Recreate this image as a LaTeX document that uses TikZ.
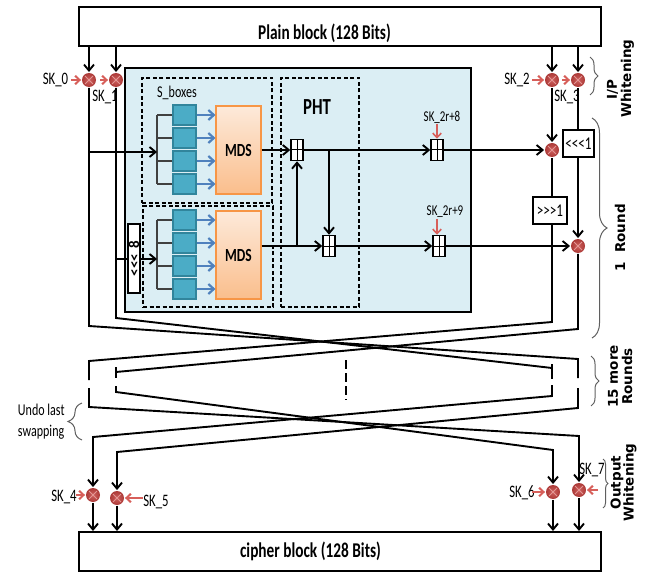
\documentclass[tikz,border=0pt]{standalone}
\usepackage{fontspec}
\newfontfamily\cf{Carlito}[FakeStretch=0.73]
\newfontfamily\wf{Carlito}
\newfontfamily\vf{DejaVu Sans}
\usetikzlibrary{arrows.meta,decorations.pathreplacing,calc}
\definecolor{panel}{RGB}{219,238,244}
\definecolor{sfill}{RGB}{75,172,198}
\definecolor{sbord}{RGB}{49,133,156}
\definecolor{mdst}{RGB}{253,234,218}
\definecolor{mdsbot}{RGB}{250,190,140}
\definecolor{mdsb}{RGB}{247,150,70}
\definecolor{ablue}{RGB}{79,129,189}
\definecolor{xin}{RGB}{205,95,92}
\definecolor{xout}{RGB}{172,58,56}
\definecolor{xpink}{RGB}{228,150,148}
\definecolor{kred}{RGB}{215,95,90}
\definecolor{bgray}{RGB}{95,95,95}
\begin{document}
\begin{tikzpicture}[x=1pt,y=-1pt,line width=1.9pt,
  arr/.style={-{Straight Barb[length=6pt,width=10pt]},line width=1.9pt},
  redarr/.style={draw=kred,line width=2pt,-{Straight Barb[length=4.5pt,width=8.5pt]}},
  bluearr/.style={draw=ablue,line width=2.2pt,-{Straight Barb[length=5.5pt,width=10pt]}},
  xorn/.style={circle,inner sep=0,minimum size=14pt,inner color=xin,outer color=xout,
    path picture={\draw[xpink,line width=0.9pt]
      ($(path picture bounding box.center)+(-4pt,-4pt)$) -- ++(8pt,8pt)
      ($(path picture bounding box.center)+(-4pt,4pt)$) -- ++(8pt,-8pt);}},
  addn/.style={rectangle,draw,fill=white,line width=1.5pt,minimum width=12pt,minimum height=21pt,inner sep=0,
    path picture={\draw[line width=1pt] (path picture bounding box.north) -- (path picture bounding box.south)
      (path picture bounding box.west) -- (path picture bounding box.east);}},
  sbox/.style={rectangle,draw=sbord,fill=sfill,line width=1.3pt,minimum width=23pt,minimum height=20pt,inner sep=0},
  mds/.style={rectangle,draw=mdsb,line width=1.1pt,top color=mdst,bottom color=mdsbot,minimum width=45pt,
    minimum height=88pt,inner sep=0,font=\cf\bfseries\fontsize{18.5}{20}\selectfont},
  dbox/.style={draw,dash pattern=on 4pt off 2.5pt,line width=1.5pt,inner sep=0},
  rotbox/.style={rectangle,draw,fill=white,line width=1.7pt,inner sep=0},
  keylab/.style={font=\cf\fontsize{17.5}{19}\selectfont,inner sep=0},
  comb/.style={draw=black!75,line width=1.1pt},
  brc/.style={draw=bgray,line width=1pt,decorate,decoration={brace,amplitude=#1}},
  vlab/.style={font=\vf\bfseries\fontsize{13.5}{15}\selectfont,rotate=90,inner sep=0},
  blockbox/.style={draw,line width=2pt,minimum width=522pt,minimum height=39pt,inner sep=0},
  blocktxt/.style={font=\cf\bfseries\fontsize{21}{24}\selectfont,inner sep=0,anchor=base},
]
\useasboundingbox (0,0) rectangle (645,572);
% blocks
\node[blockbox] (plain) at (340,26.5) {};
\node[blocktxt] (plaint) at (324.5,39.5) {Plain block (128 Bits)};
\node[blockbox] (cipher) at (340,551.5) {};
\node[blocktxt] (ciphert) at (310.5,557) {cipher block (128 Bits)};
% panel
\node[draw,fill=panel,line width=1.8pt,minimum width=346pt,minimum height=244pt,inner sep=0] (panel) at (298,190) {};
\node[dbox,minimum width=130pt,minimum height=125pt] (sb1) at (207,140.5) {};
\node[dbox,minimum width=130pt,minimum height=101pt] (sb2) at (208,256.5) {};
\node[dbox,minimum width=78pt,minimum height=229pt] (pht) at (320,192.5) {};
\node[font=\cf\fontsize{16.5}{18}\selectfont,inner sep=0] (sbl) at (177,93) {S\_boxes};
\node[font=\cf\bfseries\fontsize{23}{25}\selectfont,inner sep=0] (phtl) at (317,107) {PHT};
% MDS
\node[mds] (mds1) at (238.5,150) {MDS};
\node[mds] (mds2) at (238.5,255) {MDS};
% sboxes
\coordinate (cm1) at (157,152);
\coordinate (cm2) at (157,259);
\foreach \i/\y in {1/115,2/138,3/161,4/184}{
  \node[sbox] (sa\i) at (184.5,\y) {};
  \draw[bluearr] (sa\i.east) -- (sa\i.east -| mds1.west);
  \draw[comb] (sa\i.west) -- (sa\i.west -| cm1);
}
\foreach \i/\y in {1/220,2/243,3/266,4/289}{
  \node[sbox] (sb\i) at (184.5,\y) {};
  \draw[bluearr] (sb\i.east) -- (sb\i.east -| mds2.west);
  \draw[comb] (sb\i.west) -- (sb\i.west -| cm2);
}
\draw[comb] (sa1.west -| cm1) -- (sa4.west -| cm1);
\draw[comb] (sb1.west -| cm2) -- (sb4.west -| cm2);
% top xors
\node[xorn] (x0) at (89,80) {};
\node[xorn] (x1) at (116,80) {};
\node[xorn] (x2) at (552,80) {};
\node[xorn] (x3) at (578,80) {};
\foreach \n in {x0,x1,x2,x3}{\draw[arr] (\n |- plain.south) -- (\n.north);}
\node[keylab] (k0) at (55.5,80) {SK\_0};
\node[keylab] (k1) at (105,97) {SK\_1};
\node[keylab] (k2) at (517,80) {SK\_2};
\node[keylab] (k3) at (567,97) {SK\_3};
\coordinate (k0a) at (71,80);
\coordinate (k1a) at (100,80);
\coordinate (k2a) at (532,80);
\coordinate (k3a) at (562,80);
\draw[redarr] (k0a) -- (x0.west);
\draw[redarr] (k1a) -- (x1.west);
\draw[redarr] (k2a) -- (x2.west);
\draw[redarr] (k3a) -- (x3.west);
% inputs to F
\draw[arr] (x0 |- cm1) -- (cm1);
\node[rotbox,minimum width=12pt,minimum height=69pt] (r8) at (134,258.5)
  {\rotatebox{90}{\wf\bfseries\fontsize{15}{16}\selectfont <<<\,\,8}};
\draw (x1 |- cm2) -- (r8.west |- cm2);
\draw[arr] (r8.east |- cm2) -- (cm2);
% PHT adders
\node[addn] (a1) at (297,150) {};
\node[addn] (a2) at (329,246) {};
\node[addn] (a3) at (437,150) {};
\node[addn] (a4) at (439,246) {};
\node[xorn] (xr1) at (552,150) {};
\node[xorn] (xr2) at (578,246) {};
\draw[arr] (mds1.east) -- (a1.west);
\draw[arr] (a1.east) -- (a3.west);
\draw[arr] (a3.east) -- (xr1.west);
\draw[arr] (mds2.east |- a2) -- (a2.west);
\draw[arr] (a2.east) -- (a4.west);
\draw[arr] (a4.east) -- (xr2.west);
\draw[arr] (a2 |- a1) -- (a2.north);
\draw[arr] (a1 |- a2) -- (a1.south);
\node[font=\cf\fontsize{15}{16}\selectfont,inner sep=0] (k8) at (442,117) {SK\_2r+8};
\node[font=\cf\fontsize{15}{16}\selectfont,inner sep=0] (k9) at (445,212) {SK\_2r+9};
\draw[redarr,line width=1.6pt] (a3 |- k8.south) -- (a3.north);
\draw[redarr,line width=1.6pt] (a3 |- k9.south) -- (a4.north -| a3);
% rotations
\node[rotbox,minimum width=31pt,minimum height=27pt,font=\cf\fontsize{18}{20}\selectfont] (rl) at (578.5,143.5) {<<<1};
\node[rotbox,minimum width=34pt,minimum height=27pt,font=\cf\fontsize{18}{20}\selectfont] (rr) at (550,210.5) {>>>1};
\draw[arr] (x2.south) -- (xr1.north);
\draw (xr1.south) -- (xr1 |- rr.north);
\draw (x3.south) -- (x3 |- rl.north);
\draw[arr] (x3 |- rl.south) -- (xr2.north);
% first swap
\coordinate (p1) at (89,326);
\coordinate (p2) at (578,359);
\coordinate (p3) at (578,378);
\draw (x0.south) -- (p1) -- (p2) -- (p3);
\coordinate (q1) at (116,318);
\coordinate (q2) at (552,368);
\coordinate (q3) at (552,379);
\coordinate (q0) at (552,364);
\draw (x1.south) -- (q1) -- (q2);
\draw (q0) -- (q3);
\coordinate (r1) at (552,322);
\coordinate (r2) at (89,361);
\coordinate (r3) at (89,380);
\draw (xr1 |- rr.south) -- (r1) -- (r2) -- (r3);
\coordinate (s1) at (578,329);
\coordinate (s2) at (116,372);
\coordinate (s0) at (116,367);
\coordinate (s3) at (116,378);
\draw (xr2.south) -- (s1) -- (s2);
\draw (s0) -- (s3);
% dashed middle
\coordinate (dm1) at (346,360);
\coordinate (dm2) at (346,400);
\draw[dash pattern=on 9pt off 4pt,line width=1.5pt] (dm1) -- (dm2);
% bottom xors
\node[xorn] (x4) at (93,495) {};
\node[xorn] (x5) at (117,498) {};
\node[xorn] (x6) at (553,492) {};
\node[xorn] (x7) at (579,490) {};
% second swap
\coordinate (e1) at (89,388);
\coordinate (e2) at (89,407);
\coordinate (e3) at (579,436);
\draw[arr] (e1) -- (e2) -- (e3) -- (x7.north);
\coordinate (f1) at (116,386);
\coordinate (f2) at (116,392);
\coordinate (f3) at (553,450);
\draw[arr] (f1) -- (f2) -- (f3) -- (x6.north);
\coordinate (g1) at (552,385);
\coordinate (g2) at (552,396);
\coordinate (g3) at (93,437);
\draw[arr] (g1) -- (g2) -- (g3) -- (x4.north);
\coordinate (h1) at (578,388);
\coordinate (h2) at (578,408);
\coordinate (h3) at (117,452);
\draw[arr] (h1) -- (h2) -- (h3) -- (x5.north);
\foreach \n in {x4,x5,x6,x7}{\draw[arr] (\n.south) -- (\n |- cipher.north);}
\node[keylab] (k4) at (64,497) {SK\_4};
\node[keylab] (k5) at (156,502) {SK\_5};
\node[keylab] (k6) at (522,493) {SK\_6};
\node[keylab] (k7) at (592,470) {SK\_7};
\coordinate (k4a) at (76,495);
\coordinate (k5a) at (143,498);
\coordinate (k6a) at (532,492);
\coordinate (k7a) at (598,490);
\draw[redarr] (k4a) -- (x4.west);
\draw[redarr] (k5a) -- (x5.east);
\draw[redarr] (k6a) -- (x6.west);
\draw[redarr] (k7a) -- (x7.east);
% braces and side labels
\coordinate (b1a) at (590,57);  \coordinate (b1b) at (590,95);
\coordinate (b2a) at (592,118); \coordinate (b2b) at (592,338);
\coordinate (b3a) at (591,356); \coordinate (b3b) at (591,406);
\coordinate (b4a) at (603,459); \coordinate (b4b) at (603,508);
\coordinate (b5a) at (82,440);  \coordinate (b5b) at (82,403);
\draw[brc=8] (b1a) -- (b1b);
\draw[brc=15] (b2a) -- (b2b);
\draw[brc=8] (b3a) -- (b3b);
\draw[brc=5] (b4a) -- (b4b);
\draw[brc=14] (b5a) -- (b5b);
\node[vlab] (ip1) at (612.5,89.5) {I/P};
\node[vlab] (ip2) at (627.5,78.5) {Whitening};
\node[vlab] (rd1) at (620,238) {1\ \ Round};
\node[vlab] (mr1) at (613,376.5) {15 more};
\node[vlab] (mr2) at (627,376.5) {Rounds};
\node[vlab] (ow1) at (617,482.5) {Output};
\node[vlab] (ow2) at (630,482.5) {Whitening};
\node[font=\cf\fontsize{16.5}{18}\selectfont,inner sep=0,anchor=west] (un1) at (17,410) {Undo last};
\node[font=\cf\fontsize{16.5}{18}\selectfont,inner sep=0,anchor=west] (un2) at (17,432.5) {swapping};
\end{tikzpicture}
\end{document}
